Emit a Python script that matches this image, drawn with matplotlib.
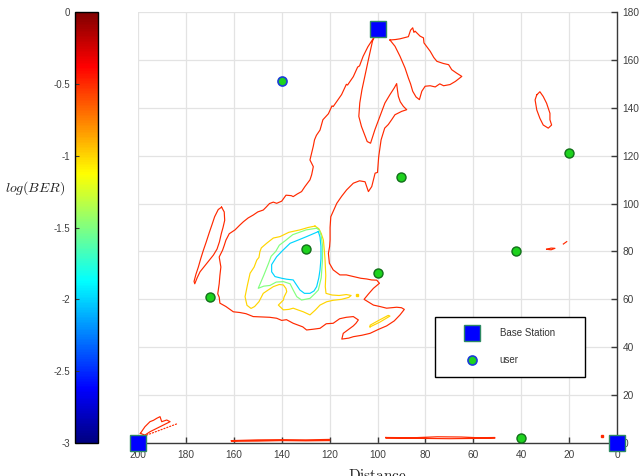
import matplotlib
matplotlib.use('Agg')
import matplotlib.pyplot as plt
from matplotlib.colors import Normalize, LinearSegmentedColormap
import matplotlib as mpl

plt.rcParams['mathtext.fontset'] = 'cm'
plt.rcParams['font.family'] = ['Liberation Sans', 'DejaVu Sans']

# ---------------- data ----------------
bs_x = [100, 200, 0]
bs_y = [173, 0, 0]
user_x = [140, 90, 20, 130, 100, 170, 42, 40]
user_y = [151, 111, 121, 81, 71, 61, 80, 2]

x_ticks = [200, 180, 160, 140, 120, 100, 80, 60, 40, 20, 0]
y_ticks = [0, 20, 40, 60, 80, 100, 120, 140, 160, 180]
cbar_ticks = [0, -0.5, -1, -1.5, -2, -2.5, -3]
cbar_labels = ['0', '-0.5', '-1', '-1.5', '-2', '-2.5', '-3']

# contour levels of log(BER)
level_red = -0.5
level_yellow = -1.0
level_green = -1.5
level_cyan = -2.0

red_main = [(101.4,169.5),(102.5,167.8),(104.0,165.5),(105.3,162.9),(106.0,161.5),(107.5,157.5),(108.3,157.0),
            (110.1,153.0),(112.5,149.5),(113.0,149.8),(115.0,145.5),(118.5,140.5),(119.0,140.8),(120.5,137.5),
            (122.8,135.0),(124.0,130.7),(125.5,128.5),(126.3,126.6),(126.8,124.0),(127.5,121.0),(128.2,118.2),
            (126.8,115.4),(127.5,112.0),(128.2,109.9),(130.3,107.1),(131.7,105.0),(133.5,104.0),(135.2,102.9),
            (136.0,103.3),(138.2,103.5),(140.0,101.0),(142.1,100.1),(143.5,100.6),(145.1,100.0),(146.5,98.5),
            (147.7,97.3),(150.0,96.5),(151.9,95.2),(154.0,94.0),(156.0,92.4),(157.5,91.0),(159.5,89.0),
            (161.9,87.4),(163.3,84.7),(164.0,82.5),(164.7,80.5),(166.1,77.7),(165.4,73.5),(165.8,70.0),
            (166.1,66.5),(166.7,62.3),(166.1,60.9),(165.8,58.4),(163.3,57.0),(160.2,54.8),(157.5,54.5),
            (154.9,54.0),(151.9,52.8),(147.9,52.6),(145.0,52.5),(142.1,52.1),(140.0,51.2),(138.0,51.5),(135.2,50.0),
            (131.2,48.5),(129.6,47.2),(127.0,47.5),(124.0,47.9),(121.4,49.8),(118.5,50.0),(115.8,51.9),
            (113.0,52.5),(110.1,52.8),(108.0,51.4),(109.0,50.0),(110.1,48.9),(114.3,45.8),(114.9,43.4),
            (112.0,43.8),(110.1,44.4),(106.5,45.0),(103.1,45.8),(99.5,47.5),(96.2,48.9),(93.0,51.0),
            (90.6,53.5),(88.8,55.8),(90.0,56.5),(92.0,56.7),(96.2,56.3),(99.0,57.0),(101.7,57.6),
            (105.6,60.0),(103.8,62.2),(101.7,64.6),(99.2,66.7),(100.3,68.0),(102.5,68.1),(104.5,68.5),
            (107.0,68.8),(110.1,69.5),(113.0,70.2),(115.7,70.2),(118.5,72.3),(120.1,75.1),(120.5,79.2),
            (120.0,82.0),(119.8,84.8),(119.8,90.0),(119.5,94.5),(117.0,100.1),(115.0,103.0),(112.9,105.7),
            (110.1,108.5),(107.5,109.5),(105.2,109.1),(103.8,105.0),(102.4,107.1),(101.0,112.7),(100.0,113.0),
            (99.5,119.6),(98.5,126.6),(97.0,131.5),(95.5,133.0),(94.1,135.0),(92.7,137.1),(89.9,138.5),
            (87.8,139.2),(89.2,140.6),(90.5,142.5),(91.3,144.8),(91.7,147.6),(92.0,150.1),(93.0,148.3),
            (94.8,145.5),(96.9,142.0),(99.0,136.4),(101.1,130.8),(102.9,125.2),(104.3,125.9),(106.7,132.2),
            (107.8,136.4),(107.4,142.0),(106.5,147.5),(105.3,153.1),(104.5,157.0),(103.5,161.5),(102.1,167.8),
            (101.4,169.5)]

red_finger = [(165.1,98.5),(164.0,96.5),(163.8,93.0),(164.5,90.0),(165.2,87.5),(166.0,84.0),(167.0,81.0),
              (168.5,78.5),(170.5,76.0),(172.5,73.5),(174.1,71.5),(175.3,69.0),(176.3,66.5),(176.6,67.5),
              (175.8,70.5),(174.8,73.5),(173.8,77.0),(172.7,80.5),(171.5,84.0),(170.2,88.0),(169.0,91.5),
              (168.0,94.5),(166.5,97.5),(165.1,98.5)]

red_top_right = [(94.8,168.3),(92.5,168.5),(90.6,168.8),(87.1,169.7),(86.2,172.4),(85.3,173.4),(84.8,171.5),
                 (84.3,172.0),(82.2,169.9),(80.8,169.2),(80.6,167.1),(78.0,163.6),(76.5,161.0),(75.2,159.4),
                 (72.5,158.5),(70.3,158.0),(69.0,155.9),(67.0,154.5),(64.8,153.1),(67.5,151.0),(69.7,149.7),
                 (72.4,149.2),(74.0,150.0),(75.9,148.7),(78.0,149.2),(80.1,149.0),(81.5,146.9),(82.5,143.4),
                 (83.9,144.5),(85.3,146.9),(86.2,150.0),(87.1,152.4),(88.5,156.6),(90.6,161.5),(92.7,165.7),
                 (94.8,168.3)]

red_island = [(33.5,145.4),(32.2,146.7),(30.8,144.7),(29.4,141.9),(28.6,139.5),(28.0,137.7),(28.0,135.0),
              (27.3,132.8),(28.7,131.5),(30.8,132.8),(32.2,135.6),(33.5,139.1),(34.2,143.3),(33.5,145.4)]

red_bit1 = [(29.4,80.9),(27.5,81.4),(25.9,81.3),(27.5,80.7),(29.4,80.9)]
red_bit2 = [(22.4,83.1),(21.0,84.1)]
red_dot = [(6.4,3.0)]

red_corner = [(199.0,4.0),(198.0,5.5),(197.1,6.8),(195.0,8.9),(193.5,9.5),(192.2,10.3),(190.8,11.0),
              (190.1,8.9),(188.0,9.6),(186.6,8.9),(189.4,7.5),(192.2,6.1),(195.0,4.7),(197.1,3.3),(199.0,4.0)]
red_corner_dots = [(196.4,3.3),(183.2,8.2)]

red_bar1 = [(161,1.0),(150,1.3),(140,1.4),(130,1.3),(120,1.5),(120,1.0),(130,0.9),(140,1.0),(150,0.8),
            (161,0.7),(161,1.0)]
red_bar2 = [(96.5,2.3),(85,2.2),(75,2.6),(65,2.5),(58,2.2),(51,2.3),(51,2.0),(60,1.9),(70,1.8),(80,1.9),
            (90,2.0),(96.5,2.0),(96.5,2.3)]

yellow_main = [(126.1,90.6),(129.0,90.0),(132.4,89.0),(137.0,88.0),(140.7,86.2),(143.5,85.6),(146.3,83.4),
               (148.5,81.5),(149.1,79.9),(149.5,77.5),(150.4,76.4),(151.5,73.5),(153.2,70.9),(154.3,66.0),
               (155.3,61.1),(154.5,57.5),(152.8,56.2),(151.3,57.0),(149.5,59.0),(147.7,62.5),(145.5,64.0),
               (143.5,65.3),(141.0,66.2),(139.3,66.0),(138.2,64.5),(137.9,63.2),(139.0,61.0),(139.3,59.7),
               (141.4,57.6),(139.3,55.6),(137.0,55.8),(135.2,56.3),(133.0,55.5),(131.0,54.8),(128.2,53.5),
               (126.0,55.5),(124.0,57.6),(121.2,59.0),(118.5,59.6),(115.0,60.0),(112.0,60.8),(111.0,61.6),
               (113.0,62.0),(116.0,61.6),(119.0,61.8),(121.5,62.5),(121.8,65.3),(121.6,70.0),(121.9,76.4),
               (122.2,80.5),(122.6,84.8),(123.5,87.5),(124.5,89.5),(126.1,90.6)]
yellow_dot = [(108.7,62.0)]
yellow_lobe = [(103.1,48.5),(99.0,50.5),(94.8,53.0),(95.5,53.3),(99.5,51.2),(103.1,49.2),(103.1,48.5)]

green_main = [(125.4,89.7),(129.8,89.0),(135.4,87.0),(138.5,84.5),(141.0,82.6),(142.5,80.0),(144.4,78.0),
              (145.5,75.0),(147.5,70.0),(149.8,64.6),(147.5,65.5),(144.9,65.8),(142.3,67.2),(139.3,67.4),
              (136.5,66.5),(135.0,63.5),(133.7,61.1),(131.7,59.7),(128.2,60.4),(126.0,62.5),(124.7,63.9),
              (123.5,69.0),(123.0,76.0),(122.9,82.0),(123.5,86.5),(124.2,88.8),(125.4,89.7)]

cyan_main = [(124.7,88.3),(129.6,86.2),(133.0,84.8),(136.5,83.4),(139.5,80.5),(142.1,77.8),(144.2,74.5),
             (144.2,71.5),(142.8,69.5),(140.0,68.8),(137.9,68.4),(135.2,68.1),(133.8,66.0),(132.4,63.9),
             (130.5,62.5),(128.2,62.5),(126.5,63.5),(125.4,65.3),(124.5,69.0),(124.0,72.3),(123.6,77.0),
             (123.6,82.0),(124.0,86.0),(124.7,88.3)]

# MATLAB-style jet colormap
jet_stops = [(0.0, (0, 0, 0.5)), (0.125, (0, 0, 1)), (0.375, (0, 1, 1)),
             (0.625, (1, 1, 0)), (0.875, (1, 0, 0)), (1.0, (0.5, 0, 0))]

# ---------------- figure ----------------
fig = plt.figure(figsize=(6.4, 4.76), dpi=100)
ax = fig.add_axes([138/640, 33/476, 479/640, 431/476])
cax = fig.add_axes([75/640, 33/476, 23/640, 431/476])

cmap = LinearSegmentedColormap.from_list('mjet', jet_stops, N=256)
norm = Normalize(vmin=-3, vmax=0)

ax.grid(True, color='#e3e3e3', linewidth=0.9, zorder=0)
ax.set_axisbelow(True)

LW = 0.85

def draw(pts, level, **kw):
    xs, ys = zip(*pts)
    ax.plot(xs, ys, color=cmap(norm(level)), linewidth=LW, zorder=2, **kw)

for shape in [red_main, red_finger, red_top_right, red_island, red_bit1, red_bit2,
              red_corner, red_bar1, red_bar2]:
    draw(shape, level_red)
draw(red_corner_dots, level_red, linestyle=(0, (1, 1.6)), dash_capstyle='round')
xs, ys = zip(*red_dot)
ax.plot(xs, ys, 's', color=cmap(norm(level_red)), markersize=2, zorder=2)
draw(yellow_main, level_yellow)
draw(yellow_lobe, level_yellow)
xs, ys = zip(*yellow_dot)
ax.plot(xs, ys, 's', color=cmap(norm(level_yellow)), markersize=2, zorder=2)
draw(green_main, level_green)
draw(cyan_main, level_cyan)

# users
ax.plot(user_x[1:], user_y[1:], 'o', markersize=6.5, markerfacecolor='#1ed21e',
        markeredgecolor='#11701a', markeredgewidth=1.0, zorder=4, clip_on=False)
ax.plot(user_x[:1], user_y[:1], 'o', markersize=6.5, markerfacecolor='#1ed21e',
        markeredgecolor='#1a3cd8', markeredgewidth=1.2, zorder=4, clip_on=False, label='user')
# base stations
ax.plot(bs_x, bs_y, 's', markersize=11, markerfacecolor='#0000ff',
        markeredgecolor='#2e8a64', markeredgewidth=1.0, zorder=5, clip_on=False, label='Base Station')

ax.set_xlim(200, 0)
ax.set_ylim(0, 180)
ax.set_xticks(x_ticks)
ax.set_yticks(y_ticks)
ax.yaxis.tick_right()
ax.spines['top'].set_visible(False)
ax.spines['left'].set_visible(False)
for s in ['bottom', 'right']:
    ax.spines[s].set_color('#3a3a3a')
    ax.spines[s].set_linewidth(1.0)
ax.tick_params(axis='both', direction='in', length=4, width=1.0, colors='#3a3a3a',
               labelsize=7.3, labelcolor='#404040')
ax.tick_params(axis='x', pad=5)
ax.tick_params(axis='y', pad=4)

ax.set_xlabel(r'$\mathrm{Distance}$', fontsize=11, color='#222222')
ax.xaxis.set_label_coords(0.5, -0.057)

handles, labels = ax.get_legend_handles_labels()
order = [labels.index('Base Station'), labels.index('user')]
leg = ax.legend([handles[i] for i in order], [labels[i] for i in order],
                loc='upper left', bbox_to_anchor=(0.62, 0.292, 0.313, 0.0), mode='expand',
                fontsize=7, frameon=True, fancybox=False, edgecolor='black', framealpha=1,
                borderpad=1.15, labelspacing=1.75, handlelength=5.4, handletextpad=0.1,
                borderaxespad=0)
leg.get_frame().set_linewidth(1.0)
for t in leg.get_texts():
    t.set_color('#333333')

# colorbar
cb = mpl.colorbar.ColorbarBase(cax, cmap=cmap, norm=norm, orientation='vertical')
cb.set_ticks(cbar_ticks)
cb.set_ticklabels(cbar_labels)
cax.yaxis.set_ticks_position('left')
cax.tick_params(direction='in', length=3, width=0.8, labelsize=7, colors='#3a3a3a', labelcolor='#404040')
cb.outline.set_edgecolor('black')
cb.outline.set_linewidth(1.0)

fig.text(35/640, 1 - 188/476, r'$log(BER)$', fontsize=10, ha='center', va='center', color='#222222')

fig.savefig('out.png', dpi=100)
